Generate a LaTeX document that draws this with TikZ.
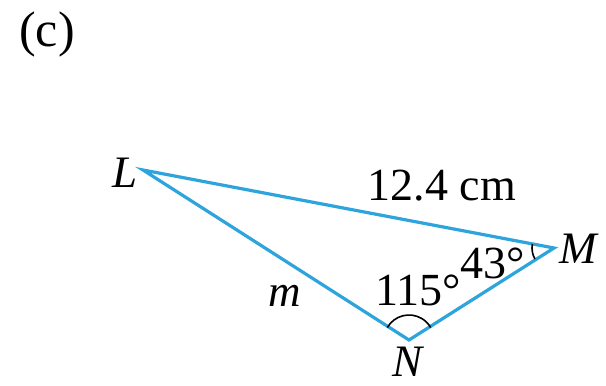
\documentclass[tikz,border=0pt]{standalone}
\usepackage{fontspec}
\setmainfont{Liberation Serif}
\usetikzlibrary{calc}
\definecolor{tri}{RGB}{45,165,220}
\begin{document}
\begin{tikzpicture}[x=1pt,y=-1pt,
  side/.style={draw=tri,line width=3.2pt,line join=miter},
  anglearc/.style={draw=black,line width=1.6pt},
  lbl/.style={font=\fontsize{46}{50}\selectfont,inner sep=0pt},
  vlbl/.style={font=\fontsize{45}{50}\selectfont\itshape,inner sep=0pt}]
\useasboundingbox (0,0) rectangle (606,386);
\coordinate (L) at (143,170);
\coordinate (M) at (554,248);
\coordinate (N) at (409,340);
\draw[side] (L) -- (M) -- (N) -- cycle;
% angle arcs
\draw[anglearc] ($(N)+(-150:25)$) arc[start angle=-150,end angle=-30,radius=25];
\draw[anglearc] ($(M)+(150:22)$) arc[start angle=150,end angle=190,radius=22];
\node[vlbl] (lL) at (125,173) {L};
\node[vlbl] (lM) at (578,249) {M};
\node[vlbl] (lN) at (408,362) {N};
\node[lbl,font=\fontsize{50}{54}\selectfont] (lc) at (47,34) {(c)};
\node[lbl] (len) at (442,186) {12.4 cm};
\node[vlbl] (lm) at (285,296) {m};
\node[lbl] (a115) at (418,290) {115°};
\node[lbl] (a43) at (493,263) {43°};
\end{tikzpicture}
\end{document}
